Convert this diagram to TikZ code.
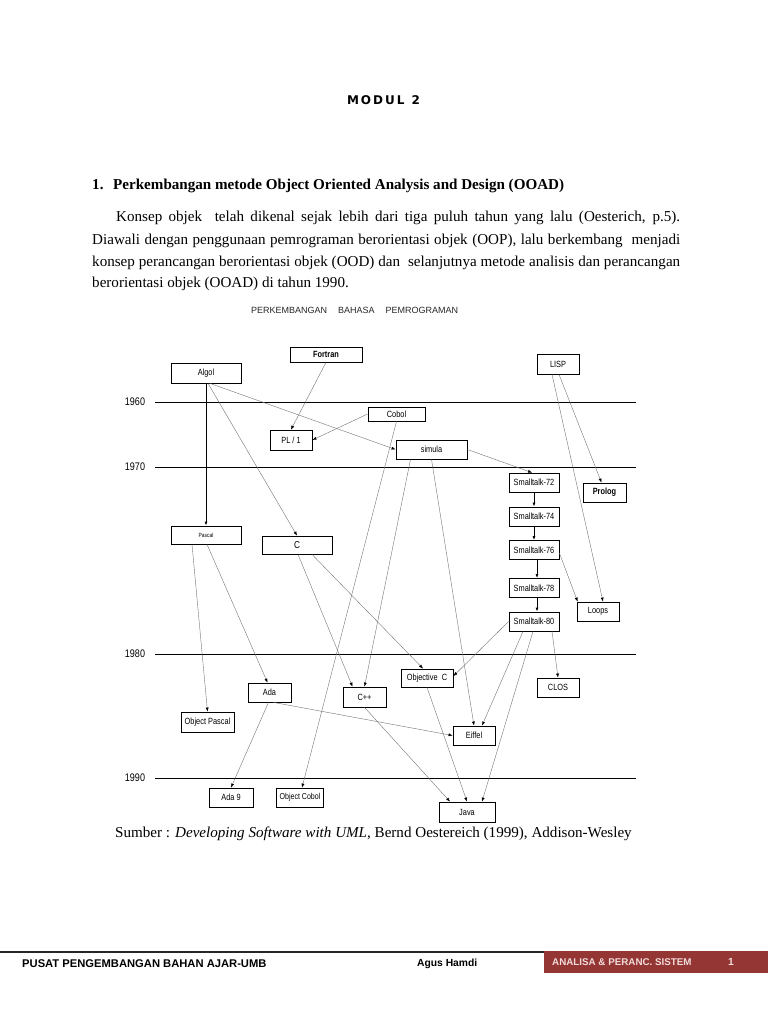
\documentclass[tikz,border=0pt]{standalone}
\usepackage{fontspec}
\setmainfont{Liberation Serif}
\setsansfont{Liberation Sans}
\newfontfamily\dfont[FakeStretch=0.82]{Liberation Sans}
\newfontfamily\modfont{DejaVu Sans}
\usetikzlibrary{arrows.meta}
\definecolor{footred}{HTML}{943634}
\definecolor{foottext}{HTML}{F2DCDB}
\begin{document}
\begin{tikzpicture}[x=1pt,y=-1pt,
  box/.style={draw=black, line width=0.8pt, inner sep=0pt, minimum height=19pt,
    font=\dfont\fontsize{9}{10}\selectfont},
  edge/.style={draw=black!55, line width=0.4pt, -{Latex[length=4pt,width=3pt,color=black]}},
  bedge/.style={draw=black, line width=0.8pt, -{Latex[length=4pt,width=3pt]}},
  year/.style={font=\dfont\fontsize{11}{12}\selectfont, inner sep=0pt},
  tline/.style={draw=black, line width=0.8pt},
  body/.style={font=\fontsize{15.1}{18}\selectfont, inner sep=0pt, anchor=base west},
  foot/.style={font=\sffamily\bfseries\fontsize{10.3}{12}\selectfont, inner sep=0pt, anchor=west}
]
\useasboundingbox (0,0) rectangle (768,1024);

% ---- header and text ----
\node[inner sep=0pt, anchor=base, font=\modfont\bfseries\fontsize{12}{14}\selectfont] (modul) at (383.5,105)
  {\hbox to 73pt{M\hfil O\hfil D\hfil U\hfil L\hfil\hskip3pt\hfil 2}};
\node[body, font=\bfseries\fontsize{15.1}{18}\selectfont] (num) at (92,190) {1.};
\node[body, font=\bfseries\fontsize{15.1}{18}\selectfont] (head) at (113,190)
  {Perkembangan metode Object Oriented Analysis and Design (OOAD)};
\node[body] (l1) at (116,222) {\hbox to 564pt{Konsep objek\ \ telah dikenal sejak lebih dari tiga puluh tahun yang lalu (Oesterich, p.5).}};
\node[body] (l2) at (92,244) {\hbox to 588pt{Diawali dengan penggunaan pemrograman berorientasi objek (OOP), lalu berkembang\ \ menjadi}};
\node[body] (l3) at (92,266) {\hbox to 588pt{konsep perancangan berorientasi objek (OOD) dan\ \ selanjutnya metode analisis dan perancangan}};
\node[body] (l4) at (92,287) {berorientasi objek (OOAD) di tahun 1990.};

\node[inner sep=0pt, anchor=base west, font=\sffamily\fontsize{9}{11}\selectfont, text=black!85] (title) at (251,313)
  {\hbox to 207pt{PERKEMBANGAN\hfil BAHASA\hfil PEMROGRAMAN}};

% ---- time lines ----
\foreach \yy/\lab in {402/1960, 467/1970, 654/1980, 778/1990}{
  \draw[tline] (155,\yy) -- (636,\yy);
  \node[year] at (135,\yy) {\lab};
}

% ---- nodes ----
\node[box, minimum width=72pt, minimum height=15pt, font=\dfont\bfseries\fontsize{9}{10}\selectfont] (fortran) at (326,354.5) {Fortran};
\node[box, minimum width=70pt, minimum height=20pt] (algol) at (206,373) {Algol};
\node[box, minimum width=42pt, minimum height=20pt] (lisp) at (558,364) {LISP};
\node[box, minimum width=57pt, minimum height=14pt] (cobol) at (396.5,414) {Cobol};
\node[box, minimum width=42pt, minimum height=20pt] (pl1) at (291,440) {PL / 1};
\node[box, minimum width=71pt, minimum height=19pt] (simula) at (431.5,449.5) {simula};
\node[box, minimum width=50pt, minimum height=19pt] (st72) at (534,482.5) {Smalltalk-72};
\node[box, minimum width=43pt, minimum height=19pt, font=\dfont\bfseries\fontsize{9}{10}\selectfont] (prolog) at (604.5,492.5) {Prolog};
\node[box, minimum width=50pt, minimum height=19pt] (st74) at (534,516.5) {Smalltalk-74};
\node[box, minimum width=70pt, minimum height=18pt, font=\dfont\fontsize{6}{7}\selectfont] (pascal) at (206,535) {Pascal};
\node[box, minimum width=70pt, minimum height=18pt, font=\dfont\fontsize{10}{11}\selectfont] (c) at (297,545) {C};
\node[box, minimum width=50pt, minimum height=19pt] (st76) at (534,550) {Smalltalk-76};
\node[box, minimum width=50pt, minimum height=19pt] (st78) at (534,588) {Smalltalk-78};
\node[box, minimum width=50pt, minimum height=19pt] (st80) at (534,621.5) {Smalltalk-80};
\node[box, minimum width=42pt, minimum height=19pt] (loops) at (598,611.5) {Loops};
\node[box, minimum width=52pt, minimum height=18pt] (objc) at (427,678) {Objective\ \ C};
\node[box, minimum width=42pt, minimum height=19pt] (clos) at (558,687.5) {CLOS};
\node[box, minimum width=43pt, minimum height=19pt] (ada) at (269.5,692.5) {Ada};
\node[box, minimum width=43pt, minimum height=20pt] (cpp) at (364.5,697) {C++};
\node[box, minimum width=53pt, minimum height=20pt] (objpascal) at (207.5,722) {Object Pascal};
\node[box, minimum width=42pt, minimum height=19pt] (eiffel) at (474,735.5) {Eiffel};
\node[box, minimum width=44pt, minimum height=19pt] (ada9) at (231,797.5) {Ada 9};
\node[box, minimum width=47pt, minimum height=19pt, font=\dfont\fontsize{8.6}{10}\selectfont] (objcobol) at (300,797.5) {Object Cobol};
\node[box, minimum width=56pt, minimum height=20pt] (java) at (467,812) {Java};

% ---- connectors ----
\draw[edge] (fortran.south) -- (pl1.north);
\draw[edge] (cobol.west) -- (pl1.east);
\draw[bedge] (algol.south) -- (pascal.north);
\draw[edge] ([xshift=2pt]algol.south) -- (c.north);
\draw[edge] ([xshift=4pt]algol.south) -- (simula.west);
\draw[edge] (simula.east) -- ([xshift=-2pt]st72.north);
\draw[edge] ([xshift=1pt]lisp.south) -- ([xshift=-3pt]prolog.north);
\draw[edge] ([xshift=-6pt]lisp.south) -- ([xshift=5pt]loops.north);
\draw[bedge] (st72.south) -- (st74.north);
\draw[bedge] (st74.south) -- (st76.north);
\draw[bedge] ([xshift=3pt]st76.south) -- ([xshift=3pt]st78.north);
\draw[bedge] ([xshift=3pt]st78.south) -- ([xshift=3pt]st80.north);
\draw[edge] ([yshift=-3pt]st76.east) -- ([xshift=1pt]loops.north west);
\draw[edge] (st80.west) -- ([yshift=2pt]objc.east);
\draw[edge] ([xshift=18pt]st80.south) -- (clos.north);
\draw[edge] ([xshift=-11pt]st80.south) -- ([xshift=8pt]eiffel.north);
\draw[edge] ([xshift=-1pt]st80.south) -- ([xshift=15pt]java.north);
\draw[edge] ([xshift=1pt]c.south) -- ([xshift=-12pt]cpp.north);
\draw[edge] ([xshift=15pt]c.south) -- ([xshift=-4pt]objc.north);
\draw[edge] ([xshift=-14pt]pascal.south) -- (objpascal.north);
\draw[edge] ([xshift=1pt]pascal.south) -- ([xshift=-2pt]ada.north);
\draw[edge] (cobol.south) -- ([xshift=2pt]objcobol.north);
\draw[edge] ([xshift=-21pt]simula.south) -- (cpp.north);
\draw[edge] (simula.south) -- (eiffel.north);
\draw[edge] ([xshift=4pt]ada.south) -- (eiffel.west);
\draw[edge] ([xshift=-1pt]ada.south) -- (ada9.north);
\draw[edge] (cpp.south) -- ([xshift=-17pt]java.north);
\draw[edge] (objc.south) -- (java.north);

% ---- source ----
\node[body] (src) at (115,837)
  {Sumber : \textit{Developing Software with UML}, Bernd Oestereich (1999), Addison-Wesley};

% ---- footer ----
\draw[line width=1.2pt, black!85] (0,952) -- (544,952);
\fill[footred] (544,951.4) rectangle (768,973);
\node[foot, font=\sffamily\bfseries\fontsize{11.2}{13}\selectfont] (f1) at (22,963.5) {PUSAT PENGEMBANGAN BAHAN AJAR-UMB};
\node[foot] (f2) at (417,963.5) {Agus Hamdi};
\node[foot, font=\sffamily\bfseries\fontsize{9.8}{12}\selectfont, text=foottext] (f3) at (552,962) {ANALISA \& PERANC. SISTEM};
\node[foot, text=foottext] (f4) at (728,962) {1};
\end{tikzpicture}
\end{document}
